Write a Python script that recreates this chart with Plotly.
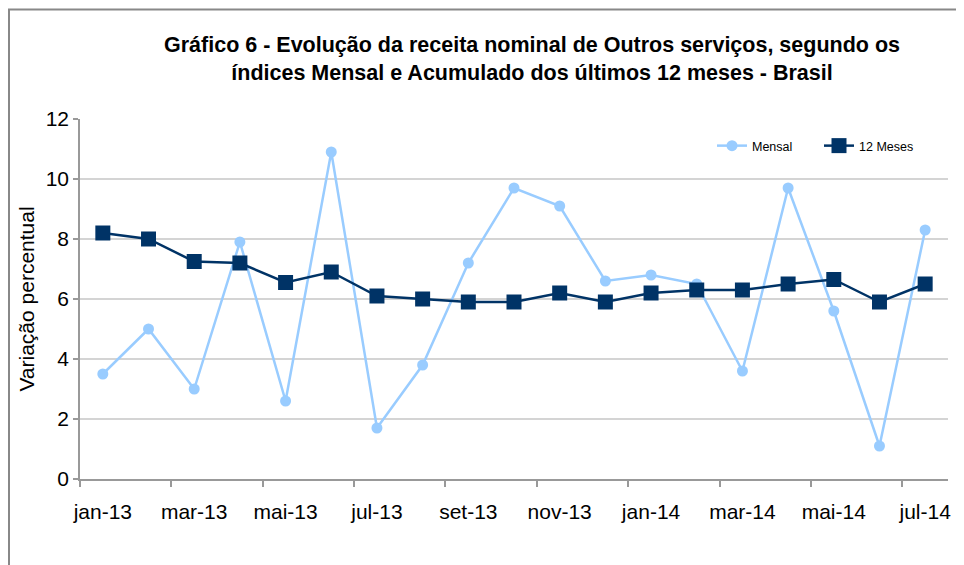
import plotly.graph_objects as go

months = ["jan-13", "fev-13", "mar-13", "abr-13", "mai-13", "jun-13", "jul-13", "ago-13",
          "set-13", "out-13", "nov-13", "dez-13", "jan-14", "fev-14", "mar-14", "abr-14",
          "mai-14", "jun-14", "jul-14"]
mensal = [3.5, 5.0, 3.0, 7.9, 2.6, 10.9, 1.7, 3.8, 7.2, 9.7, 9.1, 6.6, 6.8, 6.5, 3.6, 9.7, 5.6, 1.1, 8.3]
meses12 = [8.2, 8.0, 7.25, 7.2, 6.55, 6.9, 6.1, 6.0, 5.9, 5.9, 6.2, 5.9, 6.2, 6.3, 6.3, 6.5, 6.65, 5.9, 6.5]
y_ticks = [0, 2, 4, 6, 8, 10, 12]

x = list(range(len(months)))
tickvals = x[::2]
ticktext = months[::2]

FONT = "Liberation Sans, Arial, sans-serif"

fig = go.Figure()
fig.add_trace(go.Scatter(
    x=x, y=mensal, name="Mensal", mode="lines+markers",
    line=dict(color="#99CCFF", width=2.5),
    marker=dict(symbol="circle", size=11, color="#99CCFF"),
))
fig.add_trace(go.Scatter(
    x=x, y=meses12, name="12 Meses", mode="lines+markers",
    line=dict(color="#003366", width=2.5),
    marker=dict(symbol="square", size=15, color="#003366"),
))

# page body has an 8px margin; figure is sized/positioned to compensate
OFF = 8
W, H = 964 - OFF, 565 - OFF
L, R, T, B = 80 - OFF, 16, 119 - OFF, 86
pw, ph = W - L - R, H - T - B

fig.update_layout(
    width=W, height=H,
    margin=dict(l=L, r=R, t=T, b=B, pad=0, autoexpand=False),
    paper_bgcolor="white", plot_bgcolor="white",
    font=dict(family=FONT, color="#000000"),
    title=dict(
        text="<b>Gráfico 6 - Evolução da receita nominal de Outros serviços, segundo os<br>índices Mensal e Acumulado dos últimos 12 meses - Brasil</b>",
        x=(532 - OFF) / W, xanchor="center", y=1 - (52 - OFF) / H, yanchor="middle",
        font=dict(size=21.5, family=FONT, color="#000000"),
    ),
    showlegend=True,
    legend=dict(
        orientation="h", x=(712 - 80) / pw, xanchor="left",
        y=(479 - 146) / ph, yanchor="middle",
        font=dict(size=12.5, family=FONT, color="#000000"),
        bgcolor="rgba(0,0,0,0)", itemwidth=30,
        entrywidth=62, entrywidthmode="pixels",
        tracegroupgap=0,
    ),
    xaxis=dict(
        range=[-0.5, len(months) - 0.5],
        tickmode="array", tickvals=tickvals, ticktext=ticktext,
        ticks="", showgrid=False, zeroline=False,
        showline=True, linecolor="#999999", linewidth=1.5,
        tickfont=dict(size=21, family=FONT, color="#000000"),
        ticklabelstandoff=13,
        minor=dict(tickmode="linear", tick0=-0.5, dtick=2, ticks="outside",
                   ticklen=6, tickcolor="#999999", tickwidth=1.5, showgrid=False),
        fixedrange=True,
    ),
    yaxis=dict(
        range=[0, 12], tickmode="array", tickvals=y_ticks,
        ticks="outside", ticklen=5, tickcolor="#999999", tickwidth=1.5,
        showgrid=True, gridcolor="#d4d4d4", gridwidth=1.5,
        zeroline=False, showline=True, linecolor="#999999", linewidth=1.5,
        tickfont=dict(size=21, family=FONT, color="#000000"),
        title=dict(text="Variação percentual", font=dict(size=21, family=FONT, color="#000000"),
                   standoff=5),
        fixedrange=True,
    ),
    shapes=[
        dict(type="rect", xref="paper", yref="paper",
             x0=(1 - L) / pw, x1=(W + 20 - L) / pw,
             y0=(H - B - (H + 20)) / ph, y1=(H - B - 1.5) / ph,
             line=dict(color="#888888", width=2), fillcolor="rgba(0,0,0,0)", layer="below"),
    ],
)

fig.write_html("out.html")
